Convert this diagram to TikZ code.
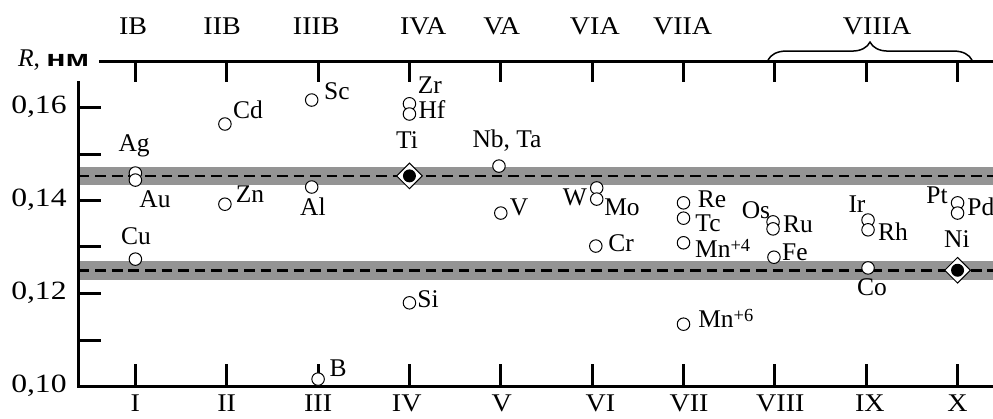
\documentclass[tikz,border=0pt]{standalone}
\usepackage{graphicx}
\usepackage{fontspec}
\setmainfont{Liberation Serif}
\newfontfamily\cyrsans{Liberation Sans}
\newcommand\widenum[1]{\scalebox{1.2}[1]{#1}}
\newcommand\widegrp[1]{\scalebox{1.1}[1]{#1}}
\newcommand\unitnm{\scalebox{1.4}[1]{\fontsize{13}{15}\cyrsans\bfseries нм}}
\newcommand\ionsup[1]{\raisebox{3.5pt}{\fontsize{10.5}{12}\selectfont #1}}
\usetikzlibrary{shapes.geometric,decorations.pathreplacing}

\begin{document}
\begin{tikzpicture}[x = 1.827cm, y = 93cm,
        font = \fontsize{14.5}{17}\selectfont,
        axis/.style = {line width = .6mm},
        band/.style = {black!42},
        level/.style = {line width = .55mm, dash pattern = on 6pt off 3.4pt},
        atom/.style = {circle, draw, fill = white, line width = .2mm, inner sep = 0pt, minimum size = .25cm},
        metal/.style = {diamond, draw, fill = white, line width = .2mm, inner sep = 0pt, minimum size = .52cm},
        sym/.style = {inner sep = 0pt, text height = .66em, text depth = 0pt},
        num/.style = {sym, font = \fontsize{15}{17}\selectfont, anchor = east},
        ion/.style = {inner sep = 0pt, anchor = base west}
    ]
                \useasboundingbox (-0.482, 0.093011) rectangle (10.388, 0.183118);

                \fill[band](0.382, 0.1433) rectangle (10.388, 0.1473);
                \fill[band](0.382, 0.1229) rectangle (10.388, 0.1270);
                \draw[level](0.382, 0.1453) to (10.388, 0.1453);
                \draw[level](0.382, 0.1250) to (10.388, 0.1250);

                \draw[axis](0.382, 0.1657) to (0.382, 0.10) to (10.388, 0.10);
                \draw[axis](0.601, 0.17) to (10.388, 0.17);

                \draw[axis](0.382, 0.16) to (0.623, 0.16);
                \draw[axis](0.382, 0.15) to (0.623, 0.15);
                \draw[axis](0.382, 0.14) to (0.623, 0.14);
                \draw[axis](0.382, 0.13) to (0.623, 0.13);
                \draw[axis](0.382, 0.12) to (0.623, 0.12);
                \draw[axis](0.382, 0.11) to (0.623, 0.11);

                \draw[axis](1, 0.17) to (1, 0.1655);
                \draw[axis](2, 0.17) to (2, 0.1655);
                \draw[axis](3, 0.17) to (3, 0.1655);
                \draw[axis](4, 0.17) to (4, 0.1655);
                \draw[axis](5, 0.17) to (5, 0.1655);
                \draw[axis](6, 0.17) to (6, 0.1655);
                \draw[axis](7, 0.17) to (7, 0.1655);
                \draw[axis](8, 0.17) to (8, 0.1655);
                \draw[axis](9, 0.17) to (9, 0.1655);
                \draw[axis](10, 0.17) to (10, 0.1655);

                \draw[axis](1, 0.10) to (1, 0.1048);
                \draw[axis](2, 0.10) to (2, 0.1048);
                \draw[axis](3, 0.10) to (3, 0.1048);
                \draw[axis](4, 0.10) to (4, 0.1048);
                \draw[axis](5, 0.10) to (5, 0.1048);
                \draw[axis](6, 0.10) to (6, 0.1048);
                \draw[axis](7, 0.10) to (7, 0.1048);
                \draw[axis](8, 0.10) to (8, 0.1048);
                \draw[axis](9, 0.10) to (9, 0.1048);
                \draw[axis](10, 0.10) to (10, 0.1048);

                \draw[line width = .3mm, decorate, decoration = {brace, amplitude = .36cm}](7.925, 0.1702) to (10.158, 0.1702);

                \node[sym, anchor = east] (rlabel) at (0.50, 0.17) {\itshape R\upshape, \unitnm};
                \node[num] (y16) at (0.251, 0.16) {\widenum{0,16}};
                \node[num] (y14) at (0.251, 0.14) {\widenum{0,14}};
                \node[num] (y12) at (0.251, 0.12) {\widenum{0,12}};
                \node[num] (y10) at (0.251, 0.10) {\widenum{0,10}};

                \node[sym] (gIB) at (0.975, 0.1770) {\widegrp{IB}};
                \node[sym] (gIIB) at (1.95, 0.1770) {\widegrp{IIB}};
                \node[sym] (gIIIB) at (2.98, 0.1770) {\widegrp{IIIB}};
                \node[sym] (gIVA) at (4.15, 0.1770) {\widegrp{IVA}};
                \node[sym] (gVA) at (5.01, 0.1770) {\widegrp{VA}};
                \node[sym] (gVIA) at (6.03, 0.1770) {\widegrp{VIA}};
                \node[sym] (gVIIA) at (6.99, 0.1770) {\widegrp{VIIA}};
                \node[sym] (gVIIIA) at (9.12, 0.1770) {\widegrp{VIIIA}};

                \node[sym, anchor = north] (p1) at (1, 0.0971) {\widegrp{I}};
                \node[sym, anchor = north] (p2) at (2, 0.0971) {\widegrp{II}};
                \node[sym, anchor = north] (p3) at (3, 0.0971) {\widegrp{III}};
                \node[sym, anchor = north] (p4) at (3.97, 0.0971) {\widegrp{IV}};
                \node[sym, anchor = north] (p5) at (5.01, 0.0971) {\widegrp{V}};
                \node[sym, anchor = north] (p6) at (6.09, 0.0971) {\widegrp{VI}};
                \node[sym, anchor = north] (p7) at (7.06, 0.0971) {\widegrp{VII}};
                \node[sym, anchor = north] (p8) at (8.06, 0.0971) {\widegrp{VIII}};
                \node[sym, anchor = north] (p9) at (9.04, 0.0971) {\widegrp{IX}};
                \node[sym, anchor = north] (p10) at (10, 0.0971) {\widegrp{X}};

                \node[atom] (ag) at (1, 0.1459) {};
                \node[atom] (au) at (1, 0.1444) {};
                \node[atom] (cu) at (1, 0.1274) {};
                \node[atom] (cd) at (1.98, 0.15645) {};
                \node[atom] (zn) at (1.98, 0.1392) {};
                \node[atom] (sc) at (2.93, 0.1616) {};
                \node[atom] (al) at (2.93, 0.1429) {};
                \node[atom] (b) at (3, 0.1016) {};
                \node[atom] (zr) at (4, 0.1608) {};
                \node[atom] (hf) at (4, 0.1586) {};
                \node[atom] (si) at (4, 0.1180) {};
                \node[atom] (nbta) at (4.98, 0.1474) {};
                \node[atom] (v) at (5, 0.1373) {};
                \node[atom] (w) at (6.05, 0.1427) {};
                \node[atom] (mo) at (6.05, 0.1403) {};
                \node[atom] (cr) at (6.04, 0.1302) {};
                \node[atom] (re) at (7, 0.1395) {};
                \node[atom] (tc) at (7, 0.1362) {};
                \node[atom] (mnf) at (7, 0.1309) {};
                \node[atom] (mns) at (7, 0.1134) {};
                \node[atom] (os) at (7.98, 0.1354) {};
                \node[atom] (ru) at (7.98, 0.1339) {};
                \node[atom] (fe) at (7.99, 0.1278) {};
                \node[atom] (ir) at (9.02, 0.1358) {};
                \node[atom] (rh) at (9.02, 0.1337) {};
                \node[atom] (co) at (9.02, 0.1255) {};
                \node[atom] (pt) at (10, 0.1395) {};
                \node[atom] (pd) at (10, 0.1373) {};

                \node[metal] (ti) at (4, 0.1453) {};
                    \fill (ti) circle (.13cm);
                \node[metal] (ni) at (10, 0.1250) {};
                    \fill (ni) circle (.13cm);

                \node[sym] (ag-l) at (0.986, 0.1518) {Ag};
                \node[sym] (au-l) at (1.214, 0.1397) {Au};
                \node[sym] (cu-l) at (1.006, 0.1318) {Cu};
                \node[sym] (cd-l) at (2.233, 0.1588) {Cd};
                \node[sym] (zn-l) at (2.254, 0.1408) {Zn};
                \node[sym] (sc-l) at (3.206, 0.1629) {Sc};
                \node[sym] (al-l) at (2.944, 0.1380) {Al};
                \node[sym] (b-l) at (3.218, 0.1035) {B};
                \node[sym] (zr-l) at (4.224, 0.1642) {Zr};
                \node[sym] (hf-l) at (4.247, 0.1588) {Hf};
                \node[sym] (ti-l) at (3.973, 0.1524) {Ti};
                \node[sym] (si-l) at (4.203, 0.1182) {Si};
                \node[sym] (nbta-l) at (5.068, 0.1526) {Nb, Ta};
                \node[sym] (v-l) at (5.199, 0.1380) {V};
                \node[sym] (w-l) at (5.812, 0.1401) {W};
                \node[sym] (mo-l) at (6.327, 0.1380) {Mo};
                \node[sym] (cr-l) at (6.316, 0.1302) {Cr};
                \node[sym] (re-l) at (7.312, 0.1397) {Re};
                \node[sym] (tc-l) at (7.268, 0.1346) {Tc};
                \node[ion] (mnf-l) at (7.124, 0.1277) {Mn\ionsup{+4}};
                \node[ion] (mns-l) at (7.158, 0.1126) {Mn\ionsup{+6}};
                \node[sym] (os-l) at (7.793, 0.1373) {Os};
                \node[sym] (ru-l) at (8.253, 0.1343) {Ru};
                \node[sym] (fe-l) at (8.220, 0.1283) {Fe};
                \node[sym] (ir-l) at (8.899, 0.1386) {Ir};
                \node[sym] (rh-l) at (9.294, 0.1326) {Rh};
                \node[sym] (co-l) at (9.063, 0.1208) {Co};
                \node[sym] (pt-l) at (9.775, 0.1405) {Pt};
                \node[sym, anchor = west] (pd-l) at (10.104, 0.1380) {Pd};
                \node[sym] (ni-l) at (9.993, 0.1311) {Ni};
\end{tikzpicture}
\end{document}
